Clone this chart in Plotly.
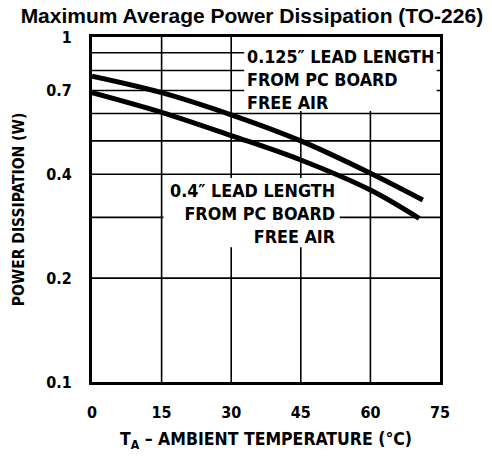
import math
import plotly.graph_objects as go

# ---- data ----
temp_125 = [0, 15, 30, 45, 60, 71.3]
power_125 = [0.77, 0.69, 0.595, 0.50, 0.403, 0.337]
temp_04 = [0, 15, 30, 45, 60, 70.5]
power_04 = [0.69, 0.605, 0.518, 0.44, 0.36, 0.298]

x_ticks = [0, 15, 30, 45, 60, 75]
y_ticks = [0.1, 0.2, 0.4, 0.7, 1]
y_ticktext = ["0.1", "0.2", "0.4", "0.7", "1"]
grid_x = [15, 30, 45, 60]
grid_y = [0.2, 0.3, 0.4, 0.5, 0.6, 0.7, 0.8, 0.9]

label_125 = ["0.125\u2033 LEAD LENGTH", "FROM PC BOARD", "FREE AIR"]
label_04 = ["0.4\u2033 LEAD LENGTH", "FROM PC BOARD", "FREE AIR"]

FONT = "Liberation Sans Narrow, DejaVu Sans Condensed, Arial Narrow, sans-serif"

fig = go.Figure()

# gridlines
for gx in grid_x:
    fig.add_trace(go.Scatter(x=[gx, gx], y=[0.1, 1], mode="lines",
                             line=dict(color="black", width=1.6),
                             hoverinfo="skip", showlegend=False))
for gy in grid_y:
    fig.add_trace(go.Scatter(x=[0, 75], y=[gy, gy], mode="lines",
                             line=dict(color="black", width=1.6),
                             hoverinfo="skip", showlegend=False))

# white label backgrounds
box_upper = dict(x=[32.8, 74.3, 74.3, 32.8, 32.8], y=[0.61, 0.61, 1, 1, 0.61])
box_lower = dict(x=[15.4, 53.4, 53.4, 15.4, 15.4], y=[0.246, 0.246, 0.39, 0.39, 0.246])
for b in (box_upper, box_lower):
    fig.add_trace(go.Scatter(x=b["x"], y=b["y"], mode="lines", fill="toself",
                             fillcolor="white", line=dict(width=0, color="white"),
                             hoverinfo="skip", showlegend=False))

# curves
fig.add_trace(go.Scatter(x=temp_125, y=power_125, mode="lines",
                         line=dict(color="black", width=5, shape="spline", smoothing=1.0),
                         showlegend=False))
fig.add_trace(go.Scatter(x=temp_04, y=power_04, mode="lines",
                         line=dict(color="black", width=5, shape="spline", smoothing=1.0),
                         showlegend=False))


def py(v):
    return 1 + math.log10(v)


fig.add_annotation(x=33.0, y=0.981, xref="x", yref="paper", xanchor="left", yanchor="top",
                   text="<br>".join(label_125), align="left", showarrow=False,
                   font=dict(family=FONT, size=17.8, color="black", weight="bold"))
fig.add_annotation(x=52.8, y=py(0.39), xref="x", yref="paper", xanchor="right", yanchor="top",
                   text="<br>".join(label_04), align="right", showarrow=False,
                   font=dict(family=FONT, size=17.8, color="black", weight="bold"))

fig.update_layout(
    width=492, height=461,
    margin=dict(l=92, r=52, t=37, b=79, autoexpand=False),
    paper_bgcolor="white", plot_bgcolor="white",
    title=dict(text="<b>Maximum Average Power Dissipation (TO-226)</b>",
               x=0.512, xanchor="center", y=0.965, yanchor="middle",
               font=dict(family="Liberation Sans, Arial, sans-serif", size=21, color="black")),
    xaxis=dict(range=[0, 75], tickvals=x_ticks, showgrid=False, zeroline=False,
               showline=True, mirror=True, linecolor="black", linewidth=3,
               ticks="", ticklabelstandoff=14, automargin=False,
               tickfont=dict(family=FONT, size=16, color="black", weight="bold"),
               title=dict(text="T<sub>A</sub> \u2013 AMBIENT TEMPERATURE (\u00b0C)", standoff=12,
                          font=dict(family=FONT, size=17.5, color="black", weight="bold"))),
    yaxis=dict(type="log", range=[-1, 0], tickvals=y_ticks, ticktext=y_ticktext,
               showgrid=False, zeroline=False,
               showline=True, mirror=True, linecolor="black", linewidth=3,
               ticks="", ticklabelstandoff=14, automargin=False,
               tickfont=dict(family=FONT, size=16, color="black", weight="bold"),
               title=dict(text="POWER DISSIPATION (W)", standoff=18,
                          font=dict(family=FONT, size=15.5, color="black", weight="bold"))),
)

fig.write_html("out.html", config={"displayModeBar": False},
               post_script="document.body.style.margin='0';")
